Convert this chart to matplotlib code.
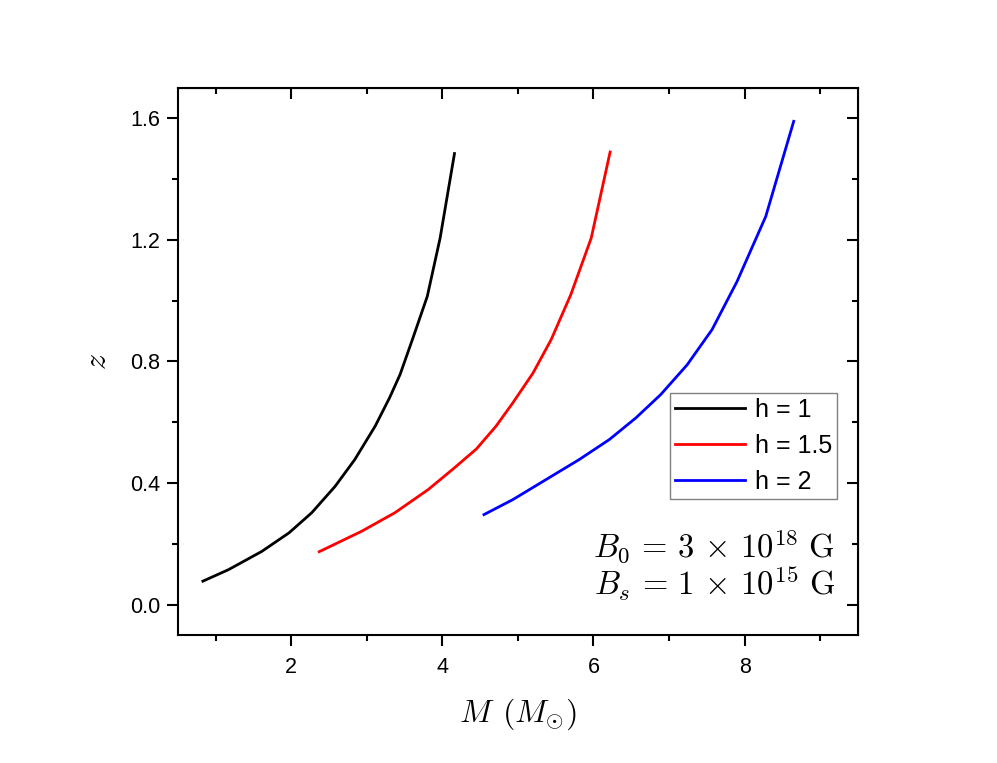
import matplotlib
matplotlib.use("Agg")
import matplotlib.pyplot as plt
from matplotlib.ticker import MultipleLocator

plt.rcParams["font.family"] = ["Liberation Sans", "DejaVu Sans"]
plt.rcParams["mathtext.fontset"] = "cm"

# h = 1
m_h1 = [0.83, 1.17, 1.61, 1.97, 2.27, 2.58, 2.84, 3.11, 3.30, 3.44, 3.61, 3.80, 3.97, 4.16]
z_h1 = [0.077, 0.115, 0.175, 0.236, 0.302, 0.389, 0.477, 0.587, 0.68, 0.757, 0.877, 1.014, 1.206, 1.484]

# h = 1.5
m_h15 = [2.37, 2.93, 3.37, 3.81, 4.16, 4.45, 4.71, 4.93, 5.20, 5.44, 5.70, 5.97, 6.22]
z_h15 = [0.174, 0.241, 0.302, 0.378, 0.45, 0.512, 0.587, 0.663, 0.762, 0.872, 1.020, 1.206, 1.489]

# h = 2
m_h2 = [4.55, 4.93, 5.37, 5.81, 6.21, 6.56, 6.89, 7.24, 7.57, 7.90, 8.28, 8.65]
z_h2 = [0.296, 0.345, 0.411, 0.477, 0.543, 0.614, 0.691, 0.789, 0.905, 1.063, 1.277, 1.590]

fig = plt.figure(figsize=(9.97, 7.63), dpi=100)
ax = fig.add_axes([0.1785, 0.1678, 0.682, 0.717])

ax.plot(m_h1, z_h1, color="black", lw=2, label="h = 1")
ax.plot(m_h15, z_h15, color="red", lw=2, label="h = 1.5")
ax.plot(m_h2, z_h2, color="blue", lw=2, label="h = 2")

ax.set_xlim(0.5, 9.5)
ax.set_ylim(-0.1, 1.7)
ax.xaxis.set_major_locator(MultipleLocator(2))
ax.xaxis.set_minor_locator(MultipleLocator(1))
ax.yaxis.set_major_locator(MultipleLocator(0.4))
ax.yaxis.set_minor_locator(MultipleLocator(0.2))
ax.yaxis.set_major_formatter(plt.FuncFormatter(lambda v, p: f"{v:.1f}"))

for s in ax.spines.values():
    s.set_linewidth(1.5)
ax.tick_params(which="major", direction="out", length=8, width=1.5, labelsize=15.5)
ax.tick_params(which="minor", direction="out", length=4, width=1.5)
ax.tick_params(axis="x", which="major", pad=8)
ax.tick_params(axis="y", which="major", pad=5)

# inward ticks on top and right, Origin style
top = ax.secondary_xaxis("top")
top.xaxis.set_major_locator(MultipleLocator(2))
top.xaxis.set_minor_locator(MultipleLocator(1))
top.tick_params(which="major", direction="in", length=8, width=1.5, labeltop=False)
top.tick_params(which="minor", direction="in", length=4, width=1.5)
right = ax.secondary_yaxis("right")
right.yaxis.set_major_locator(MultipleLocator(0.4))
right.yaxis.set_minor_locator(MultipleLocator(0.2))
right.tick_params(which="major", direction="in", length=8, width=1.5, labelright=False)
right.tick_params(which="minor", direction="in", length=4, width=1.5)

ax.set_xlabel(r"$M\;\,(M_{\odot})$", fontsize=23, labelpad=13)
ax.set_ylabel(r"$z$", fontsize=23, labelpad=12)

leg = ax.legend(loc="upper right", bbox_to_anchor=(0.969, 0.442), borderaxespad=0,
                fontsize=18, handlelength=2.8, handletextpad=0.4, labelspacing=0.47,
                borderpad=0.2, fancybox=False, framealpha=1, edgecolor="gray")
leg.get_frame().set_linewidth(1)

ax.text(0.966, 0.1426, r"$B_0\,=\,3\,\times\,10^{18}\ \mathrm{G}$", transform=ax.transAxes,
        ha="right", va="baseline", fontsize=23.5)
ax.text(0.966, 0.073, r"$B_s\,=\,1\,\times\,10^{15}\ \mathrm{G}$", transform=ax.transAxes,
        ha="right", va="baseline", fontsize=23.5)

fig.savefig("out.png", dpi=100)
